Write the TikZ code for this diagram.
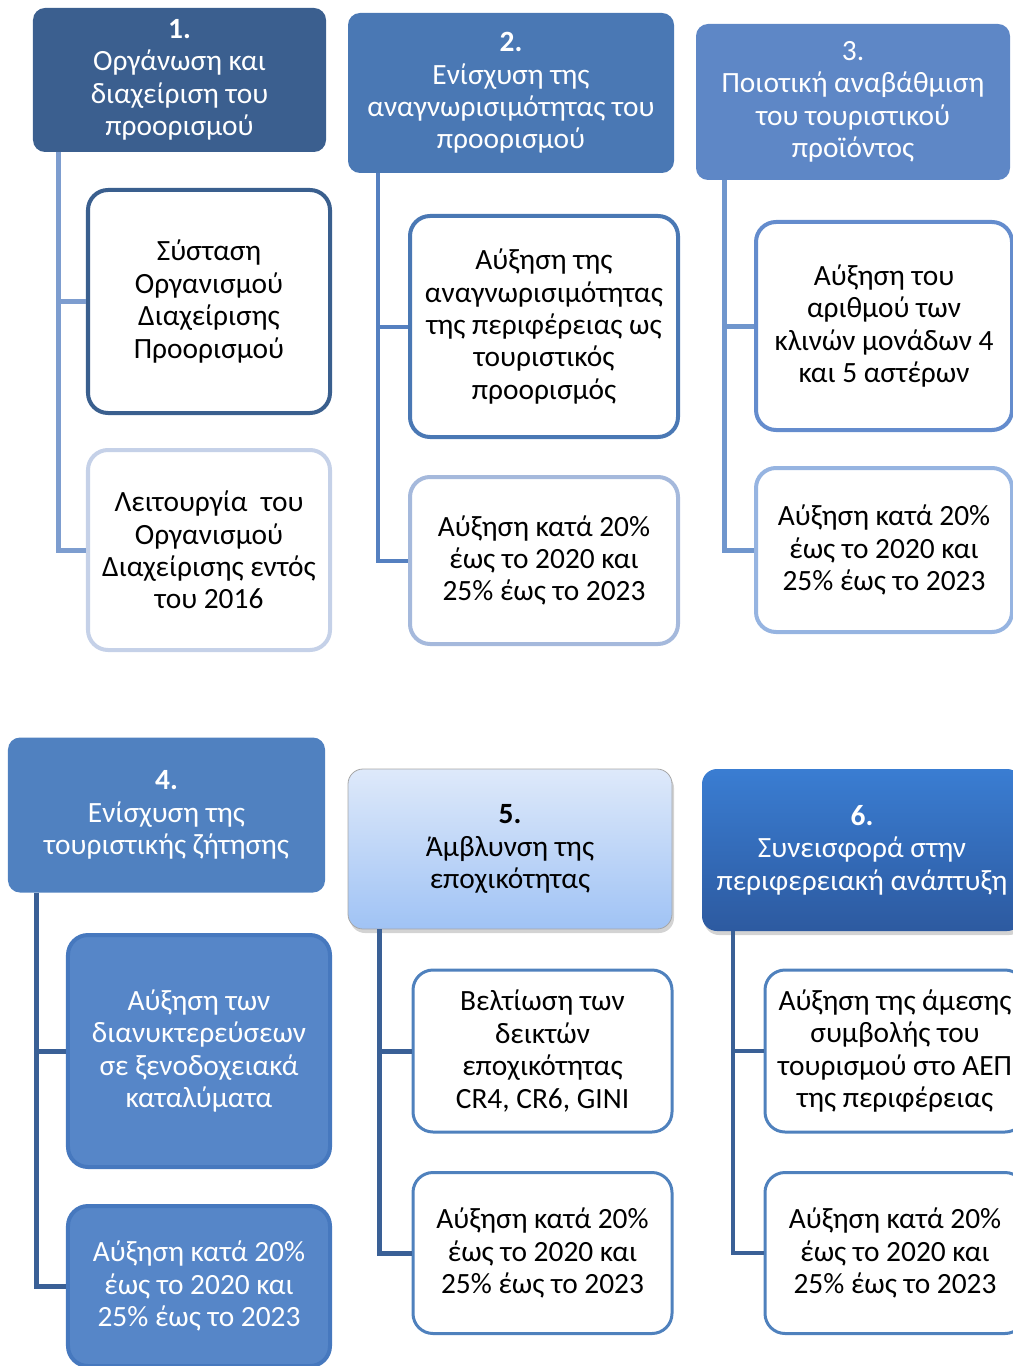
\documentclass[tikz,border=0pt]{standalone}
\usepackage{fontspec}
\setmainfont{Carlito}
\usepackage{xcolor}
\usetikzlibrary{shadows}

\definecolor{hdrA}{RGB}{59,95,143}
\definecolor{hdrB}{RGB}{74,120,180}
\definecolor{hdrC}{RGB}{94,135,198}
\definecolor{hdrD}{RGB}{80,129,192}
\definecolor{lineA}{RGB}{125,157,207}
\definecolor{lineB}{RGB}{85,128,192}
\definecolor{lineC}{RGB}{112,150,205}
\definecolor{lineD}{RGB}{58,96,150}
\definecolor{rimA}{RGB}{58,95,142}
\definecolor{rimAlt}{RGB}{197,209,232}
\definecolor{rimB}{RGB}{74,120,180}
\definecolor{rimBlt}{RGB}{165,185,220}
\definecolor{rimC}{RGB}{100,140,205}
\definecolor{rimClt}{RGB}{150,180,225}
\definecolor{fillD}{RGB}{86,134,200}
\definecolor{rimD}{RGB}{70,120,190}
\definecolor{rimE}{RGB}{79,129,189}
\definecolor{skyTop}{RGB}{222,233,250}
\definecolor{skyBot}{RGB}{160,195,245}
\definecolor{deepTop}{RGB}{58,125,210}
\definecolor{deepBot}{RGB}{45,90,160}

\newcommand{\growthgoal}{Αύξηση κατά 20\%\\έως το 2020 και\\25\% έως το 2023}

\begin{document}
\begin{tikzpicture}[
  x=1bp,
  y=-1bp,
  every node/.style={font=\fontsize{29.5}{32.5}\selectfont, align=center, inner sep=0pt},
  head/.style={rounded corners=12bp, text=white},
  goal/.style={draw, fill=white, rounded corners=20bp, line width=4bp},
  trunk/.style={line width=5bp},
  lifted/.style={rounded corners=15bp, drop shadow={shadow xshift=2bp, shadow yshift=-4bp, opacity=0.35}}
]
  \useasboundingbox (0,0) rectangle (1012,1366);

  % upper row
  \node[head, fill=hdrA, minimum width=293bp, minimum height=144bp] (h1) at (179.5,80) {\textbf{1.}\\Οργάνωση και\\διαχείριση του\\προορισμού};
  \node[goal, draw=rimA, minimum width=242bp, minimum height=223bp] (c11) at (209,301.5) {Σύσταση\\Οργανισμού\\Διαχείρισης\\Προορισμού};
  \node[goal, draw=rimAlt, minimum width=242bp, minimum height=200bp] (c12) at (209,550) {Λειτουργία\ \ του\\Οργανισμού\\Διαχείρισης εντός\\του 2016};
  \draw[trunk, lineA] ([xshift=26bp]h1.south west) |- (c11.west);
  \draw[trunk, lineA] ([xshift=26bp]h1.south west) |- (c12.west);

  \node[head, fill=hdrB, minimum width=326bp, minimum height=160bp] (h2) at (511,93) {\textbf{2.}\\Ενίσχυση της\\αναγνωρισιμότητας του\\προορισμού};
  \node[goal, draw=rimB, minimum width=268bp, minimum height=221bp] (c21) at (544,326.5) {Αύξηση της\\αναγνωρισιμότητας\\της περιφέρειας ως\\τουριστικός\\προορισμός};
  \node[goal, draw=rimBlt, minimum width=268bp, minimum height=167bp] (c22) at (544,560.5) {\growthgoal};
  \draw[trunk, lineB, line width=4bp] ([xshift=30bp]h2.south west) |- (c21.west);
  \draw[trunk, lineB, line width=4bp] ([xshift=30bp]h2.south west) |- (c22.west);

  \node[head, fill=hdrC, minimum width=314bp, minimum height=156bp] (h3) at (853,102) {3.\\Ποιοτική αναβάθμιση\\του τουριστικού\\προϊόντος};
  \node[goal, draw=rimC, minimum width=256bp, minimum height=208bp] (c31) at (884,326) {Αύξηση του\\αριθμού των\\κλινών μονάδων 4\\και 5 αστέρων};
  \node[goal, draw=rimClt, minimum width=256bp, minimum height=164bp] (c32) at (884,550) {\growthgoal};
  \draw[trunk, lineC] ([xshift=29bp]h3.south west) |- (c31.west);
  \draw[trunk, lineC] ([xshift=29bp]h3.south west) |- (c32.west);

  % lower row
  \node[head, fill=hdrD, minimum width=317bp, minimum height=155bp] (h4) at (166.5,815) {\textbf{4.}\\Ενίσχυση της\\τουριστικής ζήτησης};
  \node[goal, draw=rimD, fill=fillD, text=white, minimum width=262bp, minimum height=232bp] (c41) at (199,1051) {Αύξηση των\\διανυκτερεύσεων\\σε ξενοδοχειακά\\καταλύματα};
  \node[goal, draw=rimD, fill=fillD, text=white, minimum width=262bp, minimum height=160bp] (c42) at (199,1286) {\growthgoal};
  \draw[trunk, lineD] ([xshift=29bp]h4.south west) |- (c41.west);
  \draw[trunk, lineD] ([xshift=29bp]h4.south west) |- (c42.west);

  \node[lifted, draw=gray!70, line width=0.8bp, top color=skyTop, bottom color=skyBot, minimum width=324bp, minimum height=160bp] (h5) at (510,849) {\textbf{5.}\\Άμβλυνση της\\εποχικότητας};
  \node[goal, draw=rimE, line width=3bp, minimum width=259bp, minimum height=162bp] (c51) at (542.5,1051) {Βελτίωση των\\δεικτών\\εποχικότητας\\CR4, CR6, GINI};
  \node[goal, draw=rimE, line width=3bp, minimum width=259bp, minimum height=161bp] (c52) at (542.5,1253) {\growthgoal};
  \draw[trunk, lineD] ([xshift=32bp]h5.south west) |- (c51.west);
  \draw[trunk, lineD] ([xshift=32bp]h5.south west) |- (c52.west);

  \node[lifted, text=white, top color=deepTop, bottom color=deepBot, minimum width=320bp, minimum height=162bp] (h6) at (862,850) {\textbf{6.}\\Συνεισφορά στην\\περιφερειακή ανάπτυξη};
  \node[goal, draw=rimE, line width=3bp, minimum width=260bp, minimum height=162bp] (c61) at (895,1051) {Αύξηση της άμεσης\\συμβολής του\\τουρισμού στο ΑΕΠ\\της περιφέρειας};
  \node[goal, draw=rimE, line width=3bp, minimum width=260bp, minimum height=161bp] (c62) at (895,1253) {\growthgoal};
  \draw[trunk, lineD, line width=3.5bp] ([xshift=31bp]h6.south west) |- (c61.west);
  \draw[trunk, lineD, line width=3.5bp] ([xshift=31bp]h6.south west) |- (c62.west);
\end{tikzpicture}
\end{document}
